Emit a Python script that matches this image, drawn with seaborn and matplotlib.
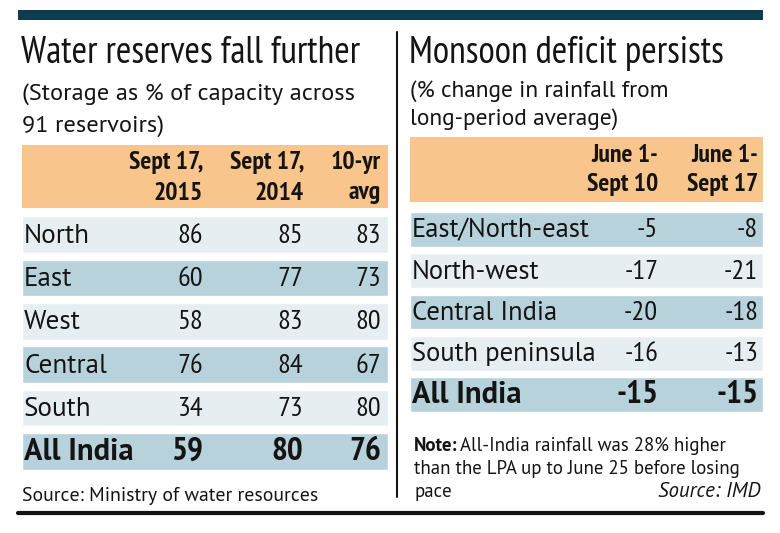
import matplotlib
matplotlib.use("Agg")
import matplotlib.pyplot as plt
import seaborn as sns
import pandas as pd
from matplotlib.patches import Rectangle

sns.set_theme(style="white")
plt.rcParams['font.family'] = ['PT Sans Narrow', 'DejaVu Sans']
WIDE = ['PT Sans', 'DejaVu Sans']

# ---- data ----
water_regions = ["North", "East", "West", "Central", "South", "All India"]
water_2015 = [86, 60, 58, 76, 34, 59]
water_2014 = [85, 77, 83, 84, 73, 80]
water_10yr = [83, 73, 80, 67, 80, 76]
water_cols = [("Sept 17,", "2015"), ("Sept 17,", "2014"), ("10-yr", "avg")]

rain_regions = ["East/North-east", "North-west", "Central India", "South peninsula", "All India"]
rain_sep10 = [-5, -17, -20, -16, -15]
rain_sep17 = [-8, -21, -18, -13, -15]
rain_cols = [("June 1-", "Sept 10"), ("June 1-", "Sept 17")]

ORANGE = "#f8c68c"
BLUE = "#b8d2dc"
LIGHT = "#e7eef2"
INK = "#141414"

W, H = 780, 533
fig = plt.figure(figsize=(W / 100, H / 100), dpi=100)
base = fig.add_axes([0, 0, 1, 1])
base.set_xlim(0, W)
base.set_ylim(H, 0)
base.axis("off")


def frac(x0, y0, x1, y1):
    return [x0 / W, 1 - y1 / H, (x1 - x0) / W, (y1 - y0) / H]


# frame lines
base.add_patch(Rectangle((18, 10), 745, 10, color="#0d3c50", lw=0))
base.plot([397, 397], [32, 497], color=INK, lw=1.5)
base.plot([18, 763], [513, 513], color=INK, lw=3)

# titles
base.text(21, 63, "Water reserves fall further", fontsize=27, color=INK)
base.text(22, 100, "(Storage as % of capacity across", fontsize=17.6, color=INK, family=WIDE)
base.text(22, 132, "91 reservoirs)", fontsize=17.6, color=INK, family=WIDE)
base.text(409, 63, "Monsoon deficit persists", fontsize=27, color=INK)
base.text(410, 97, "(% change in rainfall from", fontsize=16.8, color=INK, family=WIDE)
base.text(410, 125, "long-period average)", fontsize=16.8, color=INK, family=WIDE)

# header bands
base.add_patch(Rectangle((22, 145), 366, 63, color=ORANGE, lw=0))
base.add_patch(Rectangle((410, 137), 353, 65, color=ORANGE, lw=0))


def draw_table(rect, labels, columns, col_x, label_size):
    ax = fig.add_axes(frac(*rect))
    n = len(labels)
    df = pd.DataFrame({"region": labels, "band": [1.0] * n})
    colors = [BLUE if (i % 2 == 1) == (n % 2 == 0) else LIGHT for i in range(n)]
    sns.barplot(data=df, x="band", y="region", hue="region", palette=colors,
                legend=False, width=0.84, orient="h", ax=ax, saturation=1)
    ax.set_xlim(0, 1)
    ax.set_ylim(n - 0.5, -0.5)
    ax.axis("off")
    for i, lab in enumerate(labels):
        last = i == n - 1
        if last:
            ax.text(0.006, i + 0.02, lab, ha="left", va="center", color=INK,
                    fontsize=22, fontweight="bold", family=WIDE)
        else:
            ax.text(0.006, i + 0.02, lab, ha="left", va="center", color=INK,
                    fontsize=label_size, family=WIDE)
        for j, vals in enumerate(columns):
            ax.text(col_x[j], i + 0.02, str(vals[i]), ha="right", va="center", color=INK,
                    fontsize=24 if last else 20.5, fontweight="bold" if last else "normal")
    return ax


draw_table((22, 213, 388, 473), water_regions, [water_2015, water_2014, water_10yr],
           [0.495, 0.768, 0.981], 19.5)
draw_table((410, 209, 763, 415), rain_regions, [rain_sep10, rain_sep17],
           [0.703, 0.986], 19.2)

# header text
for (l1, l2), xr in zip(water_cols, [203, 304, 381]):
    base.text(xr, 163, l1, ha="right", va="center", fontsize=18.5, fontweight="bold", color=INK)
    base.text(xr, 193, l2, ha="right", va="center", fontsize=18.5, fontweight="bold", color=INK)
for (l1, l2), xr in zip(rain_cols, [658, 758]):
    base.text(xr, 155, l1, ha="right", va="center", fontsize=18.5, fontweight="bold", color=INK)
    base.text(xr, 185, l2, ha="right", va="center", fontsize=18.5, fontweight="bold", color=INK)

# footers
base.text(22, 501, "Source: Ministry of water resources", fontsize=14.2, color=INK, family=WIDE)
note = base.text(414, 451, "Note:", fontsize=13.6, fontweight="bold", color=INK, family=WIDE)
fig.canvas.draw()
note_end = note.get_window_extent().x1 + 3
base.text(note_end, 451, "All-India rainfall was 28% higher", fontsize=13.6, color=INK, family=WIDE)
base.text(414, 474, "than the LPA up to June 25 before losing", fontsize=13.6, color=INK, family=WIDE)
base.text(414, 497, "pace", fontsize=13.6, color=INK, family=WIDE)
base.text(760, 497, "Source: IMD", fontsize=15, style="italic", ha="right", color=INK, family=WIDE)

fig.savefig("out.png", dpi=100)
